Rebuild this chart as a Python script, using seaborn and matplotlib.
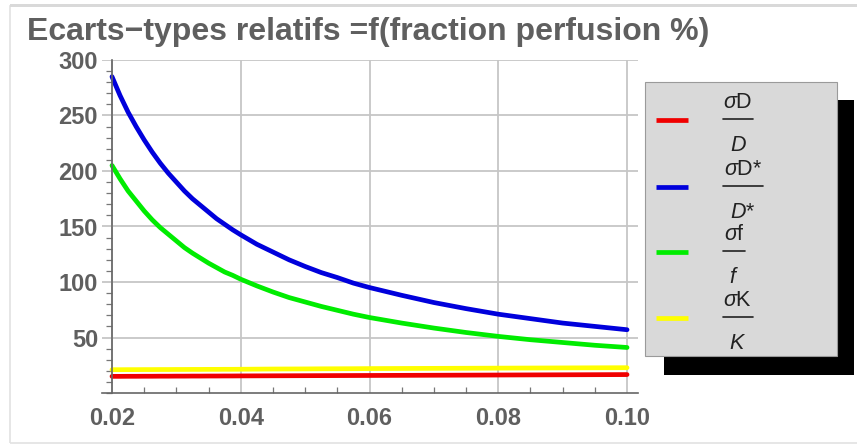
import numpy as np
import pandas as pd
import matplotlib
matplotlib.use("Agg")
import matplotlib.pyplot as plt
from matplotlib.patches import Rectangle
from matplotlib.lines import Line2D
from matplotlib.ticker import MultipleLocator, FormatStrFormatter
import seaborn as sns

# Values
fraction = [0.02, 0.02125, 0.0225, 0.02375, 0.025, 0.02625, 0.0275, 0.02875, 0.03,
            0.03125, 0.0325, 0.03375, 0.035, 0.03625, 0.0375, 0.03875, 0.04,
            0.0425, 0.045, 0.0475, 0.05, 0.0525, 0.055, 0.0575, 0.06,
            0.065, 0.07, 0.075, 0.08, 0.085, 0.09, 0.095, 0.10]
sigma_D = [15.0, 15.0, 15.05, 15.05, 15.1, 15.1, 15.15, 15.15, 15.2,
           15.2, 15.25, 15.25, 15.3, 15.3, 15.35, 15.35, 15.4,
           15.45, 15.5, 15.55, 15.6, 15.65, 15.7, 15.75, 15.8,
           15.9, 16.0, 16.1, 16.2, 16.3, 16.4, 16.5, 16.6]
sigma_Dstar = [285, 268, 253, 240, 228, 217, 207, 198, 190,
               182, 175, 169, 163, 157, 152, 147, 142.5,
               134, 127, 120, 114, 108.5, 104, 99, 95,
               88, 81.5, 76, 71, 67, 63, 60, 57]
sigma_f = [205, 193, 182, 173, 164, 156, 149, 143, 137,
           131, 126, 121.5, 117, 113, 109, 106, 102.5,
           96.5, 91, 86, 82, 78, 74.5, 71, 68,
           63, 58.5, 54.5, 51, 48, 45.5, 43, 41]
sigma_K = [21.0, 21.0, 21.05, 21.05, 21.1, 21.1, 21.15, 21.15, 21.2,
           21.2, 21.25, 21.25, 21.3, 21.3, 21.35, 21.35, 21.4,
           21.5, 21.6, 21.65, 21.7, 21.8, 21.85, 21.9, 22.0,
           22.1, 22.2, 22.3, 22.4, 22.5, 22.6, 22.7, 22.8]

series_names = ["sD", "sDstar", "sf", "sK"]
series_values = [sigma_D, sigma_Dstar, sigma_f, sigma_K]
series_colors = ["#f00000", "#0000dc", "#00ec00", "#ffff00"]
legend_num = [r"$\sigma$D", r"$\sigma$D*", r"$\sigma$f", r"$\sigma$K"]
legend_den = [r"$D$", r"$D$*", r"$f$", r"$K$"]
legend_bar_w = [30, 40, 22, 30]

x_ticks = [0.02, 0.04, 0.06, 0.08, 0.10]
y_ticks = [50, 100, 150, 200, 250, 300]

sns.set_theme(style="white")
plt.rcParams["font.family"] = ["Liberation Sans", "DejaVu Sans"]
plt.rcParams["mathtext.fontset"] = "custom"
plt.rcParams["mathtext.rm"] = "Liberation Sans"
plt.rcParams["mathtext.it"] = "Liberation Sans:italic"

W, H = 857, 448
fig = plt.figure(figsize=(W / 100, H / 100), dpi=100)


def fx(px):
    return px / W


def fy(py):
    return 1 - py / H


# light frame around the picture
fig.add_artist(Rectangle((fx(9.5), fy(443)), fx(900), fy(6) - fy(443),
                         transform=fig.transFigure, fill=False, ec="#e2e2e2", lw=1.2))
fig.add_artist(Rectangle((fx(9.5), fy(7.5)), fx(900), fy(4) - fy(7.5),
                         transform=fig.transFigure, fc="#d9d9d9", ec="none"))

ax = fig.add_axes([fx(101.7), fy(393), fx(638) - fx(101.7), fy(60) - fy(393)])

df = pd.DataFrame({
    "fraction": fraction * len(series_names),
    "value": sum(series_values, []),
    "serie": np.repeat(series_names, len(fraction)),
})
sns.lineplot(data=df, x="fraction", y="value", hue="serie", palette=series_colors,
             hue_order=series_names, lw=3.4, legend=False, sort=False, ax=ax)

ax.set_xlim(0.0184, 0.1017)
ax.set_ylim(0, 300)
ax.set_xticks(x_ticks)
ax.set_yticks(y_ticks)
ax.xaxis.set_minor_locator(MultipleLocator(0.005))
ax.yaxis.set_minor_locator(MultipleLocator(10))
ax.xaxis.set_major_formatter(FormatStrFormatter("%.2f"))
ax.yaxis.set_major_formatter(FormatStrFormatter("%d"))
ax.set_xlabel("")
ax.set_ylabel("")
ax.grid(True, which="major", color="#c6c6c6", lw=1.3)
ax.set_axisbelow(True)

for s in ["top", "right"]:
    ax.spines[s].set_visible(False)
ax.spines["left"].set_position(("data", 0.02))
for s in ["left", "bottom"]:
    ax.spines[s].set_color("#666666")
    ax.spines[s].set_linewidth(1.2)

ax.tick_params(axis="y", which="major", direction="out", length=8, width=1.1,
               color="#666666", pad=2, labelsize=17, labelcolor="#5f5f5f")
ax.tick_params(axis="y", which="minor", direction="out", length=4, width=0.9,
               color="#777777", left=True)
ax.tick_params(axis="x", which="major", direction="in", length=8, width=1.1,
               color="#666666", pad=10, labelsize=17, labelcolor="#5f5f5f")
ax.tick_params(axis="x", which="minor", direction="in", length=4, width=0.9,
               color="#777777", bottom=True)
for lab in ax.get_xticklabels() + ax.get_yticklabels():
    lab.set_fontweight("bold")

fig.text(fx(27), fy(40), "Ecarts\u2212types relatifs =f(fraction perfusion %)",
         fontsize=23, fontweight="bold", color="#5f5f5f", va="baseline", ha="left")

# legend box with black drop shadow
fig.add_artist(Rectangle((fx(664), fy(375)), fx(854) - fx(664), fy(100) - fy(375),
                         transform=fig.transFigure, fc="black", ec="none"))
fig.add_artist(Rectangle((fx(645), fy(356)), fx(837) - fx(645), fy(82) - fy(356),
                         transform=fig.transFigure, fc="#d9d9d9", ec="#9a9a9a", lw=0.8))

rows_y = [120, 187, 252, 318]
for i, yy in enumerate(rows_y):
    fig.add_artist(Line2D([fx(656), fx(688)], [fy(yy), fy(yy)], transform=fig.transFigure,
                          color=series_colors[i], lw=3.4, solid_capstyle="butt"))
    fig.add_artist(Line2D([fx(723), fx(723 + legend_bar_w[i])], [fy(yy - 1), fy(yy - 1)],
                          transform=fig.transFigure, color="#222222", lw=1.2))
    cx = 723 + legend_bar_w[i] / 2
    fig.text(fx(cx), fy(yy - 12), legend_num[i], fontsize=15.5, color="#222222",
             ha="center", va="baseline")
    fig.text(fx(cx), fy(yy + 31), legend_den[i], fontsize=15.5, color="#222222",
             ha="center", va="baseline")

fig.savefig("out.png", dpi=100)
